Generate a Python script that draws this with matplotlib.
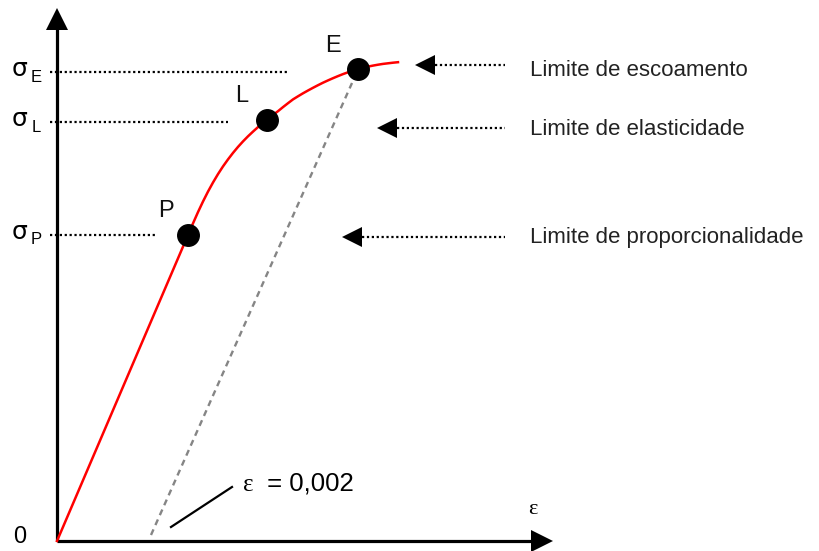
import numpy as np
import matplotlib.pyplot as plt

# Curva tensão x deformação (unidades do esquema, origem no canto do gráfico)
deformacao = [0, 131, 136, 141, 146, 151, 156, 161, 166, 171, 176, 181, 186,
              191, 196, 201, 206, 211, 216, 221, 226, 231, 236, 241, 246, 251,
              256, 261, 266, 271, 276, 281, 286, 291, 296, 301, 306, 311, 316,
              321, 326, 331, 336, 341]
tensao = [0, 306, 317.6, 328.9, 339.5, 349.4, 358.5, 366.9, 374.6, 381.6,
          388.1, 394.1, 399.6, 404.7, 409.4, 413.9, 418.2, 422.2, 426.1, 429.8,
          433.9, 437.8, 441.6, 444.7, 447.7, 450.5, 453.2, 455.8, 458.3, 460.6,
          462.8, 464.9, 466.9, 468.7, 470.4, 472.0, 473.3, 474.4, 475.4, 476.3,
          477.1, 477.7, 478.3, 478.8]

# Pontos notáveis: P (proporcionalidade), L (elasticidade), E (escoamento)
pontos_nome = ["P", "L", "E"]
pontos_def = [131, 210, 301]
pontos_ten = [306, 421.5, 472]

# Níveis de tensão marcados no eixo vertical
sigma_nome = ["P", "L", "E"]
sigma_nivel = [306, 419, 469]
sigma_fim = [100, 171, 231]

# Reta paralela ao trecho elástico (deformação residual de 0,002)
offset_def = [94, 295]
offset_ten = [6, 458]

# Legendas à direita: texto, altura da seta e ponta da seta
legenda_texto = ["Limite de escoamento", "Limite de elasticidade",
                 "Limite de proporcionalidade"]
legenda_ten = [476, 413, 304]
legenda_ponta = [358, 320, 285]
legenda_base = [465, 406, 298]

FONTE = "Liberation Sans"
FONTE_SIMB = "Liberation Serif"

fig = plt.figure(figsize=(8.19, 5.51), dpi=100)
ax = fig.add_axes([0, 0, 1, 1])
ax.set_xlim(-57, 762)
ax.set_ylim(-10, 541)
ax.axis("off")

# Eixos com setas
ax.plot([0, 0], [0, 512], color="black", linewidth=2.3, solid_capstyle="butt")
ax.plot([0, 476], [0, 0], color="black", linewidth=2.3, solid_capstyle="butt")
ax.plot(0, 522.5, marker="^", markersize=16.5, color="black", markeredgewidth=0)
ax.plot(485, 0, marker=">", markersize=15.5, color="black", markeredgewidth=0)

# Curva e reta deslocada
ax.plot(offset_def, offset_ten, color="#858585", linewidth=1.7,
        linestyle=(0, (2.6, 2.0)))
ax.plot(deformacao, tensao, color="#ff0000", linewidth=1.8,
        solid_joinstyle="round")
ax.plot(pontos_def, pontos_ten, "o", color="black", markersize=15.5)

dx_nome = [-22, -25, -25]
dy_nome = [24, 23, 23]
for nome, x, y, ddx, ddy in zip(pontos_nome, pontos_def, pontos_ten, dx_nome, dy_nome):
    ax.text(x + ddx, y + ddy, nome, fontsize=17, family=FONTE,
            ha="center", va="center", color="#111111")

# Linhas pontilhadas dos níveis de tensão
for nome, nivel, fim in zip(sigma_nome, sigma_nivel, sigma_fim):
    ax.plot([-7, fim], [nivel, nivel], color="black", linewidth=1.6,
            linestyle=(0, (1, 1.2)))
    ax.text(-37, nivel + 3, "σ", fontsize=18, family="DejaVu Sans",
            ha="center", va="center")
    ax.text(-21, nivel - 5, nome, fontsize=12, family=FONTE,
            ha="center", va="center")

# Setas e textos das legendas
for texto, y, ponta, base in zip(legenda_texto, legenda_ten, legenda_ponta, legenda_base):
    ax.plot([ponta + 20, 448], [y, y], color="black", linewidth=1.6,
            linestyle=(0, (1, 1.2)))
    ax.plot(ponta + 10, y, marker="<", markersize=14.5, color="black",
            markeredgewidth=0)
    ax.text(473, base, texto, fontsize=16, family=FONTE, ha="left",
            va="baseline", color="#222222")

# Indicação da deformação residual
ax.plot([114, 175], [14, 54], color="black", linewidth=1.6)
ax.text(186, 50, "ε", fontsize=18, family=FONTE_SIMB, ha="left", va="baseline")
ax.text(203, 50, " = 0,002", fontsize=18.5, family=FONTE, ha="left", va="baseline")

ax.text(-37, 4, "0", fontsize=17, family=FONTE, ha="center", va="center")
ax.text(476, 31, "ε", fontsize=16, family=FONTE_SIMB, ha="center", va="center")

fig.savefig("out.png", dpi=100)
